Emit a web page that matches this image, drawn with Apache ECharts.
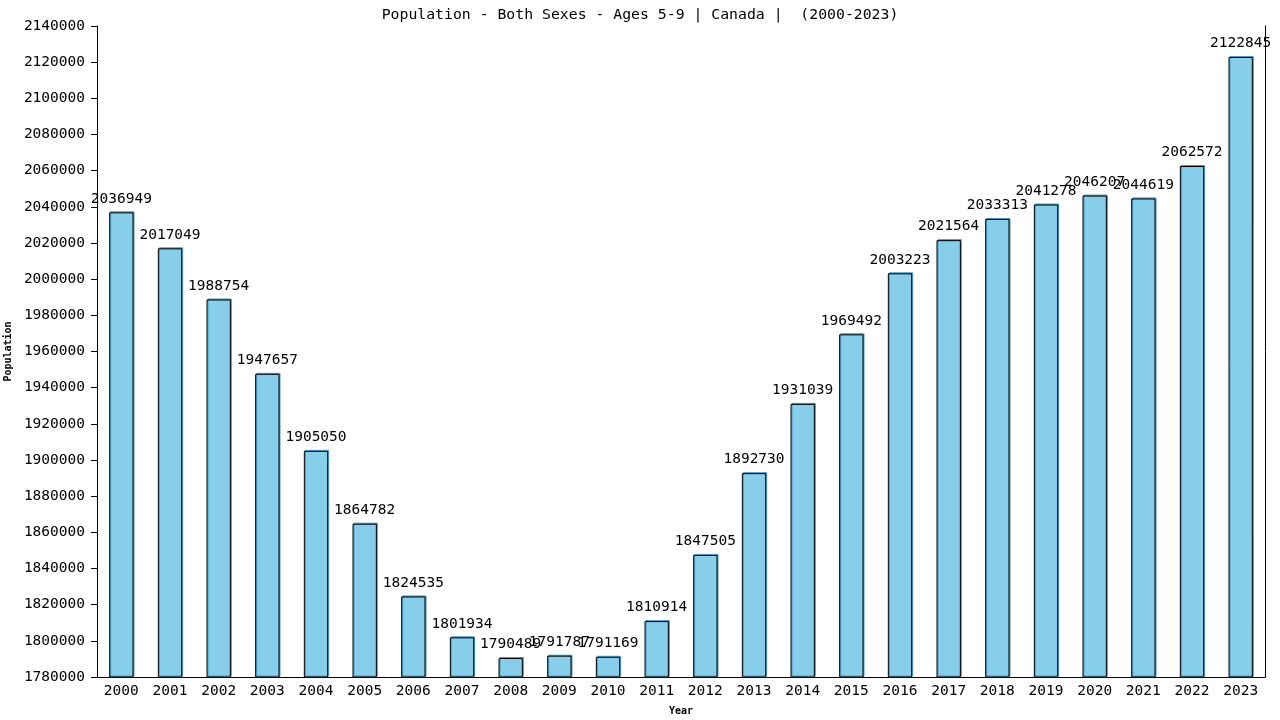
<!DOCTYPE html>
<html>
<head>
<meta charset="utf-8">
<script src="https://cdn.jsdelivr.net/npm/echarts@6/dist/echarts.min.js"></script>
<style>
  html, body { margin: 0; padding: 0; background: #fff; }
  #chart { width: 1280px; height: 720px; }
</style>
</head>
<body>
<div id="chart"></div>
<script>
var years = ['2000', '2001', '2002', '2003', '2004', '2005', '2006', '2007', '2008', '2009', '2010', '2011',
             '2012', '2013', '2014', '2015', '2016', '2017', '2018', '2019', '2020', '2021', '2022', '2023'];
var population = [2036949, 2017049, 1988754, 1947657, 1905050, 1864782, 1824535, 1801934, 1790489, 1791787, 1791169, 1810914,
                  1847505, 1892730, 1931039, 1969492, 2003223, 2021564, 2033313, 2041278, 2046207, 2044619, 2062572, 2122845];
var yMin = 1780000;
var yMax = 2140000;
var yStep = 20000;

var font = '"DejaVu Sans Mono", monospace';

var chart = echarts.init(document.getElementById('chart'));

var option = {
    animation: false,
    title: {
        text: 'Population - Both Sexes - Ages 5-9 | Canada |  (2000-2023)',
        left: 'center',
        top: 3,
        textStyle: { fontFamily: font, fontSize: 14.8, fontWeight: 'normal', color: '#000' }
    },
    grid: { left: 97, right: 15, top: 26, bottom: 43, containLabel: false, outerBoundsMode: 'none' },
    xAxis: {
        type: 'category',
        data: years,
        name: 'Year',
        nameLocation: 'middle',
        nameGap: 29,
        nameTextStyle: { fontFamily: font, fontSize: 10, fontWeight: 'bold', color: '#000' },
        axisLine: { lineStyle: { color: '#000', width: 1 } },
        axisTick: { show: false },
        axisLabel: { fontFamily: font, fontSize: 14.5, color: '#000', margin: 7 }
    },
    yAxis: [{
        type: 'value',
        min: yMin,
        max: yMax,
        interval: yStep,
        name: 'Population',
        nameLocation: 'middle',
        nameGap: 80,
        nameTextStyle: { fontFamily: font, fontSize: 10, fontWeight: 'bold', color: '#000' },
        axisLine: { show: true, lineStyle: { color: '#000', width: 1 } },
        axisTick: { show: true, length: 6, lineStyle: { color: '#000' } },
        axisLabel: {
            fontFamily: font, fontSize: 14.5, color: '#000', margin: 12,
            formatter: function (v) { return String(v); }
        },
        splitLine: { show: false }
    }, {
        type: 'value',
        position: 'right',
        min: yMin,
        max: yMax,
        axisLine: { show: true, lineStyle: { color: '#000', width: 1 } },
        axisTick: { show: false },
        axisLabel: { show: false },
        splitLine: { show: false }
    }],
    series: [{
        type: 'bar',
        data: population,
        barWidth: '50%',
        itemStyle: {
            color: '#87ceeb',
            borderColor: '#000',
            borderWidth: 1,
            shadowColor: '#4a9cc9',
            shadowOffsetX: 1,
            shadowOffsetY: -1
        },
        label: {
            show: true,
            position: 'top',
            distance: 6,
            fontFamily: font,
            fontSize: 14.5,
            color: '#000'
        }
    }]
};

chart.setOption(option);
</script>
</body>
</html>
